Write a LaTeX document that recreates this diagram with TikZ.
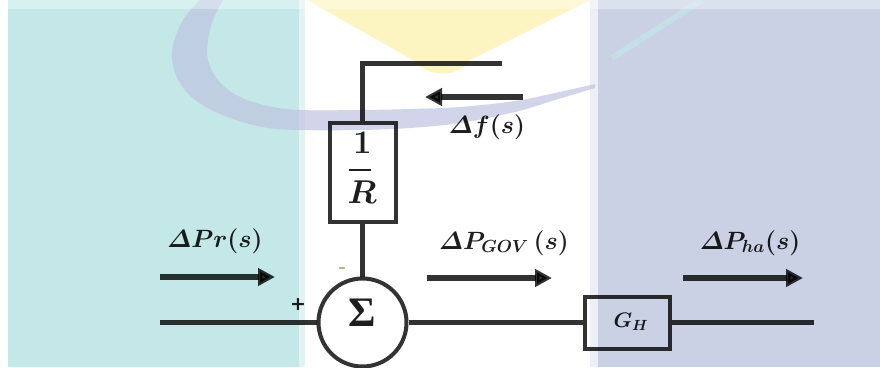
\RequirePackage{fix-cm}
\documentclass[tikz,border=0pt]{standalone}
\usepackage{amsmath}
\usepackage{fontspec}
\newfontfamily\sigmafont{Liberation Serif}
\newfontfamily\signfont{DejaVu Sans}
\usetikzlibrary{arrows.meta}

\definecolor{linegray}{HTML}{333333}
\definecolor{ink}{HTML}{1E1E1E}
\definecolor{panelteal}{HTML}{C4E8E7}
\definecolor{panellav}{HTML}{CAD1E5}
\definecolor{tealedge}{HTML}{E2F3F3}
\definecolor{lavedge}{HTML}{EDEFF7}
\definecolor{swoosh}{HTML}{BFC3E0}
\definecolor{funnel}{HTML}{FCF5C2}
\definecolor{streak}{HTML}{C2E6E8}
\definecolor{minuscol}{HTML}{C9A07E}

\tikzset{
  wire/.style={draw=linegray, line width=5pt},
  blockbox/.style={draw=linegray, line width=4pt, rectangle, inner sep=0pt},
  sumnode/.style={draw=linegray, line width=4pt, circle, inner sep=0pt, minimum size=88pt},
  flowarrow/.style={draw=linegray, line width=5.5pt, -{Triangle[length=17pt,width=17pt]}},
  lbl/.style={text=ink, inner sep=0pt, anchor=base, font=\fontsize{25}{30}\selectfont\boldmath},
  fraclbl/.style={text=ink, inner sep=0pt, anchor=base, font=\fontsize{33}{40}\selectfont\boldmath},
}

\begin{document}
\begin{tikzpicture}[x=1pt,y=-1pt]
\useasboundingbox (0,0) rectangle (880,367);
\fill[white] (0,0) rectangle (880,367);

% background panels
\fill[panelteal] (8,0) rectangle (299,367);
\fill[tealedge] (299,0) rectangle (305,367);
\fill[lavedge] (590,0) rectangle (598,367);
\fill[panellav] (598,0) rectangle (880,367);

% logo shapes behind the diagram
\fill[funnel] (307,0) -- (413,60) .. controls (428,78) and (458,78) .. (470,60) -- (590,0) -- cycle;
\fill[swoosh, opacity=0.7]
  plot[smooth, tension=0.6] coordinates {(200,0) (183,20) (173,45) (173,65) (181,85) (198,102) (225,116) (262,127) (300,130) (360,130) (410,128) (460,123) (515,112) (555,100) (595,88)}
  -- plot[smooth, tension=0.6] coordinates {(595,84) (555,93) (515,101) (460,107) (410,109) (360,110) (300,110) (268,106) (238,96) (218,80) (208,60) (208,40) (213,20) (223,0)}
  -- cycle;
\draw[streak, line width=6pt, opacity=0.7] (702,0) -- (612,58);
\fill[white, opacity=0.35] (0,0) rectangle (880,9);

\begin{scope}[blend mode=multiply]
% blocks
\node[sumnode] (sum) at (362.5,322.5) {};
\node[text=ink, inner sep=0pt, font=\sigmafont\bfseries\fontsize{42}{42}\selectfont] (sigma) at (362.5,312.5) {Σ};

\node[blockbox, minimum width=66pt, minimum height=99pt] (rbox) at (362.5,172) {};
\node[fraclbl] (one) at (362.5,153) {$\mathbf{1}$};
\node[fraclbl] (rr) at (362,203) {$R$};
\coordinate (barL) at (348.5,170);
\coordinate (barR) at (371,170);
\draw[ink, line width=2.2pt] (barL) -- (barR);

\node[blockbox, minimum width=85pt, minimum height=52pt] (gh) at (627.5,322.5) {};
\node[lbl, font=\fontsize{21}{26}\selectfont\boldmath] (ghlabel) at (631,327) {$G_H$};

% signal lines
\coordinate (inp) at (160,322.5);
\coordinate (outp) at (814,322.5);
\coordinate (fbcorner) at (362.5,63);
\coordinate (fbend) at (502,63);
\draw[wire] (inp) -- (sum.west);
\draw[wire] (sum.east) -- (gh.west);
\draw[wire] (gh.east) -- (outp);
\draw[wire] (sum.north) -- (rbox.south);
\draw[wire] (rbox.north) -- (fbcorner) -- (fbend);

% signal direction arrows
\coordinate (prA) at (160,277);
\coordinate (prB) at (275,277);
\coordinate (govA) at (427,278);
\coordinate (govB) at (552,278);
\coordinate (haA) at (683,278);
\coordinate (haB) at (803,278);
\coordinate (dfA) at (523,97);
\coordinate (dfB) at (425,97);
\draw[flowarrow] (prA) -- (prB);
\draw[flowarrow] (govA) -- (govB);
\draw[flowarrow] (haA) -- (haB);
\draw[flowarrow] (dfA) -- (dfB);

% labels
\node[lbl] (prlabel) at (215,247) {$\varDelta Pr(s)$};
\node[lbl] (govlabel) at (504,249) {$\varDelta P_{GOV}\,(s)$};
\node[lbl] (halabel) at (750,249) {$\varDelta P_{ha}(s)$};
\node[lbl] (dflabel) at (487,133) {$\varDelta f(s)$};
\node[text=ink, inner sep=0pt, font=\signfont\bfseries\fontsize{19}{19}\selectfont] (plus) at (298,305) {+};
\node[text=minuscol, inner sep=0pt, font=\signfont\fontsize{22}{22}\selectfont] (minus) at (342,271) {-};
\end{scope}
\end{tikzpicture}
\end{document}
